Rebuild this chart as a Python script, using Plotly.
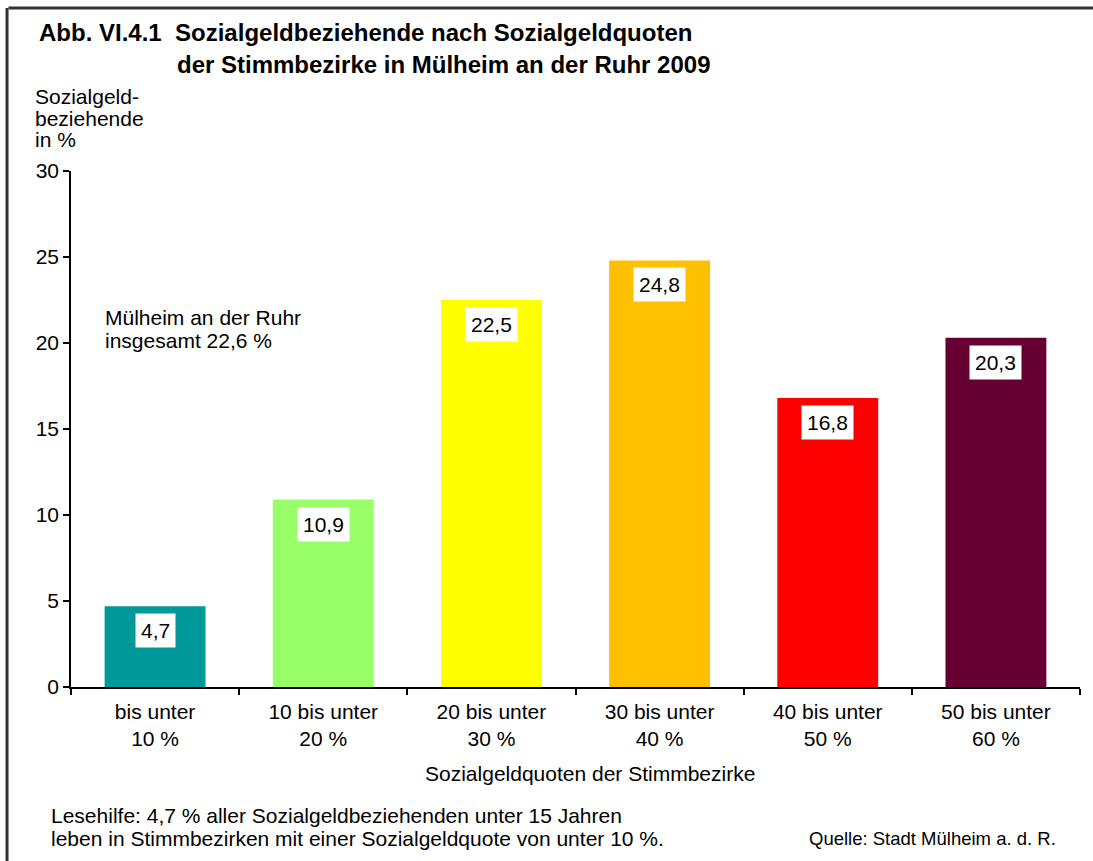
import plotly.graph_objects as go

# Sozialgeldbeziehende nach Sozialgeldquoten der Stimmbezirke, Mülheim an der Ruhr 2009
categories = ["bis unter<br>10 %", "10 bis unter<br>20 %", "20 bis unter<br>30 %",
              "30 bis unter<br>40 %", "40 bis unter<br>50 %", "50 bis unter<br>60 %"]
values = [4.7, 10.9, 22.5, 24.8, 16.8, 20.3]
value_labels = ["4,7", "10,9", "22,5", "24,8", "16,8", "20,3"]
bar_colors = ["#009999", "#99FF66", "#FFFF00", "#FFC000", "#FF0000", "#660033"]
y_ticks = [0, 5, 10, 15, 20, 25, 30]

FONT = "Liberation Sans, Arial, sans-serif"
BASE = 21

fig = go.Figure()
fig.add_trace(go.Bar(
    x=categories, y=values,
    marker=dict(color=bar_colors, line=dict(width=0)),
    width=0.6,
    hoverinfo="skip",
))

# value boxes inside the bars
for cat, val, lab in zip(categories, values, value_labels):
    fig.add_annotation(
        x=cat, y=val, xref="x", yref="y",
        text=lab, showarrow=False,
        yanchor="top", yshift=-7,
        bgcolor="white", borderpad=5,
        font=dict(family=FONT, size=BASE, color="black"),
    )

fig.update_layout(
    width=1093, height=861,
    margin=dict(l=71, r=13, t=171, b=174),
    paper_bgcolor="white", plot_bgcolor="white",
    showlegend=False,
    font=dict(family=FONT, size=BASE, color="black"),
    xaxis=dict(
        type="category",
        showline=True, linecolor="black", linewidth=1.5,
        ticks="outside", tickson="boundaries", ticklen=6, tickcolor="black", tickwidth=1.5,
        showgrid=False, ticklabelstandoff=5,
        tickfont=dict(family=FONT, size=BASE, color="black"),
    ),
    yaxis=dict(
        range=[0, 30], tickvals=y_ticks,
        showline=True, linecolor="black", linewidth=1.5,
        ticks="outside", ticklen=6, tickcolor="black", tickwidth=1.5,
        showgrid=False, zeroline=False,
        tickfont=dict(family=FONT, size=BASE, color="black"),
    ),
)

# frame along top and left edges
fig.add_shape(type="line", xref="paper", yref="paper", x0=-0.062, x1=1.02, y0=1.316, y1=1.316,
              line=dict(color="#333333", width=3))
fig.add_shape(type="line", xref="paper", yref="paper", x0=-0.0634, x1=-0.0634, y0=1.316, y1=-0.34,
              line=dict(color="#333333", width=3))

plot_w = 1093 - 71 - 13
plot_h = 861 - 171 - 174

texts = [
    # (text, x px, y px, anchor, size)
    ("<b>Abb. VI.4.1  Sozialgeldbeziehende nach Sozialgeldquoten</b>", 37, 33, "left", 24),
    ("<b>der Stimmbezirke in Mülheim an der Ruhr 2009</b>", 175, 64, "left", 24),
    ("Sozialgeld-", 33, 97, "left", BASE),
    ("beziehende", 33, 118, "left", BASE),
    ("in %", 33, 140, "left", BASE),
    ("Mülheim an der Ruhr", 103, 317, "left", BASE),
    ("insgesamt 22,6 %", 103, 340, "left", BASE),
    ("Sozialgeldquoten der Stimmbezirke", 590, 773, "center", BASE),
    ("Lesehilfe: 4,7 % aller Sozialgeldbeziehenden unter 15 Jahren", 49, 815, "left", BASE),
    ("leben in Stimmbezirken mit einer Sozialgeldquote von unter 10 %.", 49, 838, "left", BASE),
    ("Quelle: Stadt Mülheim a. d. R.", 1058, 838, "right", 18.5),
]
for txt, px, py, anchor, size in texts:
    fig.add_annotation(
        x=(px - 71) / plot_w, y=(861 - 174 - py) / plot_h,
        xref="paper", yref="paper", text=txt, showarrow=False,
        xanchor=anchor, yanchor="middle", align=anchor,
        font=dict(family=FONT, size=size, color="black"),
    )

fig.write_html("out.html")
